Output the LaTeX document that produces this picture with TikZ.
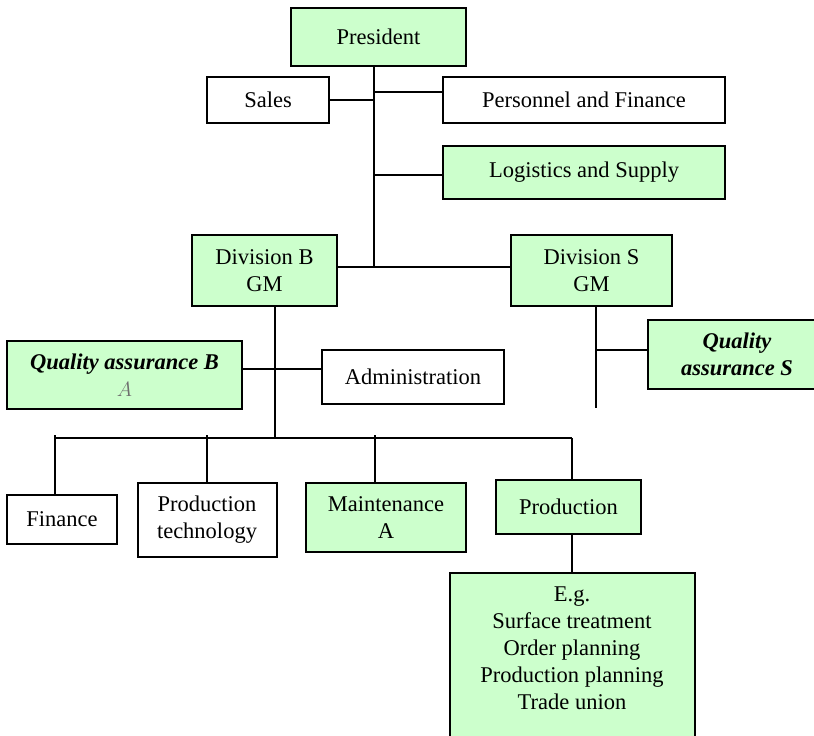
\documentclass[tikz,border=0pt]{standalone}
\usepackage{fontspec}
\setmainfont{Liberation Serif}
\definecolor{lg}{RGB}{204,255,204}
\definecolor{ga}{RGB}{110,110,110}
\begin{document}
\begin{tikzpicture}[x=1pt,y=-1pt,
  box/.style={draw=black,line width=2pt,rectangle,inner sep=0pt,align=center,
    font=\fontsize{22.5}{27}\selectfont},
  gbox/.style={box,fill=lg},
  wbox/.style={box,fill=white},
  conn/.style={line width=1.6pt}]
\clip (0,0) rectangle (814,736);
\fill[white] (0,0) rectangle (814,736);

% nodes
\node[gbox,minimum width=175pt,minimum height=58pt] (pres) at (378.5,37) {President};
\node[wbox,minimum width=122pt,minimum height=46pt] (sales) at (268,100) {Sales};
\node[wbox,minimum width=282pt,minimum height=46pt] (pers) at (584,100) {Personnel and Finance};
\node[gbox,minimum width=282pt,minimum height=53pt] (log) at (584,172.5) {Logistics and Supply};
\node[gbox,minimum width=145pt,minimum height=71pt] (divB) at (264.5,270.5) {Division B\\GM};
\node[gbox,minimum width=161pt,minimum height=71pt] (divS) at (591.5,270.5) {Division S\\GM};
\node[gbox,minimum width=235pt,minimum height=68pt] (qaB) at (124.5,375) {\textbf{\textit{Quality assurance B}}\\\textcolor{ga}{$A$}};
\node[wbox,minimum width=182pt,minimum height=54pt] (adm) at (413,377) {Administration};
\node[gbox,minimum width=178pt,minimum height=69pt] (qaS) at (737,354.5) {\textbf{\textit{Quality}}\\\textbf{\textit{assurance S}}};
\node[wbox,minimum width=110pt,minimum height=49pt] (fin) at (62,519.5) {Finance};
\node[wbox,minimum width=139pt,minimum height=74pt] (ptech) at (207,520) {Production\\technology};
\node[gbox,minimum width=160pt,minimum height=69pt] (maint) at (386,517.5) {Maintenance\\A};
\node[gbox,minimum width=145pt,minimum height=54pt] (prod) at (568.5,507) {Production};
\node[gbox,minimum width=245pt,minimum height=180pt,anchor=north] (eg) at (572.5,572) {};
\node[align=center,inner sep=0pt,font=\fontsize{22.5}{27}\selectfont] (egtext) at (572,648)
  {E.g.\\Surface treatment\\Order planning\\Production planning\\Trade union};

% junction coordinates
\coordinate (t1) at (374,267);
\coordinate (j2) at (275,438);
\coordinate (busL) at (55,438);
\coordinate (busR) at (572,438);
\coordinate (sEnd) at (596,408);

% connectors
\draw[conn] (pres.south -| t1) -- (t1);
\draw[conn] (sales.east) -- (sales.east -| t1);
\draw[conn] ([yshift=8pt]pers.west) -- ([yshift=8pt]pers.west -| t1);
\draw[conn] ([yshift=-2.5pt]log.west) -- ([yshift=-2.5pt]log.west -| t1);
\draw[conn] ([yshift=3.5pt]divB.east) -- ([yshift=3.5pt]divS.west);
\draw[conn] (divB.south -| j2) -- (j2);
\draw[conn] ([yshift=6pt]qaB.east) -- ([yshift=6pt]qaB.east -| adm.west);
\draw[conn] (busL) -- (busR);
\draw[conn] ([yshift=3pt]busL) -- (fin.north -| busL);
\draw[conn] ([yshift=3pt]busL -| ptech.north) -- (ptech.north);
\draw[conn] ([yshift=3pt]busL -| 375,0) -- (maint.north -| 375,0);
\draw[conn] (busR) -- (prod.north -| busR);
\draw[conn] (prod.south -| busR) -- (eg.north -| busR);
\draw[conn] (divS.south -| sEnd) -- (sEnd);
\draw[conn] ([yshift=4.5pt]qaS.west -| sEnd) -- ([yshift=4.5pt]qaS.west);
\end{tikzpicture}
\end{document}
